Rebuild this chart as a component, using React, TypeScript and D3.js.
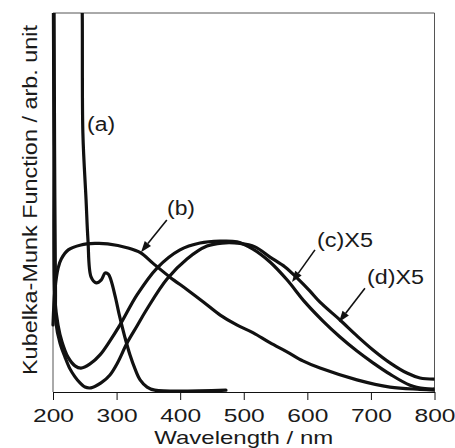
import React, { useEffect, useRef } from "react";
import * as d3 from "d3";

// wavelength (nm) and Kubelka-Munk value (arb. unit)
const aWave = [245, 246, 247, 252, 255, 260, 268, 276, 282, 287, 291, 298, 305, 313, 321, 329, 337, 348, 360, 472];
const aValue = [108, 100, 68.3, 50.7, 40.1, 30.3, 28.8, 29.6, 31.4, 31.1, 29.6, 25.1, 19.8, 14.5, 9.8, 6.1, 3.2, 1.3, 0.5, 0.5];

const bWave = [200, 203, 208, 213, 224, 244, 266, 286, 318, 338, 357, 384, 411, 437, 463, 489, 515, 541, 568, 593, 620, 678, 730, 777, 800];
const bValue = [17.7, 26.9, 32.7, 35.1, 37.5, 38.8, 39.2, 39.1, 38.0, 36.7, 34.0, 30.3, 27.0, 23.7, 20.3, 17.7, 15.6, 13.0, 10.6, 8.2, 6.3, 3.2, 1.3, 0.7, 0.5];

const cWave = [200.5, 201.6, 203.1, 207.9, 214.2, 223.6, 234.6, 244, 258.2, 273.9, 289.6, 305.4, 332.1, 363.6, 399.7, 431.2, 462.6, 489.4, 514.5, 541.3, 568, 596.3, 624.6, 651.4, 678.1, 703.3, 730, 761.5, 785, 799.5];
const cValue = [106, 63.9, 24.3, 17.7, 13.2, 9.2, 6.9, 6.3, 7.4, 9.8, 13.5, 17.7, 25.6, 32.7, 37.5, 39.3, 39.8, 39.6, 37.7, 34.3, 29.6, 23.7, 18.7, 14.5, 10.8, 7.7, 4.7, 1.8, 0.9, 0.8];

const dWave = [201.6, 202.5, 203.9, 204.7, 211, 218.9, 226.7, 234.6, 242.5, 250.3, 259.8, 275.5, 289.6, 302.2, 316.4, 332.1, 347.8, 379.3, 410.7, 442.2, 465.8, 494.1, 517.7, 541.3, 564.9, 583.7, 604.2, 619.9, 651.4, 678.1, 703.3, 730, 756.7, 777.2, 799.5];
const dValue = [106, 63.9, 26.9, 18.2, 12.9, 9.2, 6.1, 4.0, 2.4, 1.3, 1.1, 2.4, 4.5, 7.9, 12.9, 17.4, 21.9, 29.8, 35.1, 38.5, 39.3, 39.2, 38.3, 35.6, 33.0, 30.1, 26.6, 23.7, 19.0, 14.8, 11.1, 7.7, 5.0, 3.7, 3.4];

const xTicks = [200, 300, 400, 500, 600, 700, 800];

// labels: text, anchor position, optional arrow (from -> tip), all in data units
const labels = [
  { text: "(a)", wl: 253.5, v: 68.9, width: 28, arrow: null },
  { text: "(b)", wl: 379.3, v: 46.7, width: 28, arrow: [379, 45.4, 338.4, 36.9] },
  { text: "(c)X5", wl: 615.2, v: 38.3, width: 56, arrow: [612, 37.5, 575.9, 29.0] },
  { text: "(d)X5", wl: 693.8, v: 28.5, width: 57, arrow: [690.6, 27.4, 649.8, 18.5] },
];

const App = () => {
  const ref = useRef(null);

  useEffect(() => {
    const svg = d3.select(ref.current);
    svg.selectAll("*").remove();

    const W = 455;
    const H = 448;
    const left = 53, right = 434.5, top = 13, bottom = 392;
    const font = "Liberation Sans, Arial, Helvetica, sans-serif";

    const x = d3.scaleLinear().domain([200, 800]).range([left, right]);
    const y = d3.scaleLinear().domain([0, 100]).range([bottom, top]);

    svg.attr("width", W).attr("height", H);
    svg.append("rect").attr("width", W).attr("height", H).attr("fill", "#fff");

    svg.append("defs").append("clipPath").attr("id", "plotClip")
      .append("rect")
      .attr("x", left - 3).attr("y", top)
      .attr("width", right - left + 3).attr("height", bottom - top);

    // frame
    svg.append("path")
      .attr("d", `M${left},${bottom}V${top}H${right}V${bottom}`)
      .attr("fill", "none").attr("stroke", "#555").attr("stroke-width", 1);

    // bottom axis
    const axis = svg.append("g").attr("transform", `translate(0,${bottom})`)
      .call(d3.axisBottom(x).tickValues(xTicks).tickSize(8).tickSizeOuter(0).tickFormat(d3.format("d")));
    axis.select(".domain").attr("stroke", "#111").attr("stroke-width", 1.2);
    axis.selectAll(".tick line").attr("stroke", "#111").attr("stroke-width", 1);
    axis.selectAll(".tick text")
      .attr("x", 0).attr("y", 30).attr("dy", 0)
      .attr("font-family", font).attr("font-size", 18.5).attr("fill", "#1a1a1a")
      .attr("textLength", 41).attr("lengthAdjust", "spacingAndGlyphs");

    svg.append("text")
      .attr("x", (left + right) / 2).attr("y", 443.5)
      .attr("text-anchor", "middle")
      .attr("font-family", font).attr("font-size", 18.5).attr("fill", "#1a1a1a")
      .attr("textLength", 179).attr("lengthAdjust", "spacingAndGlyphs")
      .text("Wavelength / nm");

    svg.append("text")
      .attr("transform", `translate(37,200) rotate(-90)`)
      .attr("text-anchor", "middle")
      .attr("font-family", font).attr("font-size", 21).attr("fill", "#1a1a1a")
      .attr("textLength", 350).attr("lengthAdjust", "spacingAndGlyphs")
      .text("Kubelka-Munk Function / arb. unit");

    const line = d3.line()
      .x((d) => x(d[0]))
      .y((d) => y(d[1]))
      .curve(d3.curveCatmullRom.alpha(0.5));

    const series = [
      [aWave, aValue],
      [bWave, bValue],
      [cWave, cValue],
      [dWave, dValue],
    ];

    const g = svg.append("g").attr("clip-path", "url(#plotClip)");
    series.forEach(([w, v]) => {
      g.append("path")
        .datum(w.map((wl, i) => [wl, v[i]]))
        .attr("fill", "none")
        .attr("stroke", "#111")
        .attr("stroke-width", 3.2)
        .attr("stroke-linejoin", "round")
        .attr("stroke-linecap", "round")
        .attr("d", line);
    });

    labels.forEach((l) => {
      svg.append("text")
        .attr("x", x(l.wl)).attr("y", y(l.v))
        .attr("font-family", font).attr("font-size", 20).attr("fill", "#1a1a1a")
        .attr("textLength", l.width).attr("lengthAdjust", "spacingAndGlyphs")
        .text(l.text);
      if (l.arrow) {
        const x1 = x(l.arrow[0]), y1 = y(l.arrow[1]);
        const x2 = x(l.arrow[2]), y2 = y(l.arrow[3]);
        const ang = Math.atan2(y2 - y1, x2 - x1);
        const len = 11, hw = 4;
        const bx = x2 - len * Math.cos(ang), by = y2 - len * Math.sin(ang);
        svg.append("line")
          .attr("x1", x1).attr("y1", y1).attr("x2", bx).attr("y2", by)
          .attr("stroke", "#111").attr("stroke-width", 1.6);
        svg.append("path")
          .attr("d", `M${x2},${y2}L${bx - hw * Math.sin(ang)},${by + hw * Math.cos(ang)}L${bx + hw * Math.sin(ang)},${by - hw * Math.cos(ang)}Z`)
          .attr("fill", "#111");
      }
    });
  }, []);

  return (
    <div style={{ position: "absolute", left: 0, top: 0 }}>
      <svg ref={ref} style={{ display: "block" }} />
    </div>
  );
};

export default App;
